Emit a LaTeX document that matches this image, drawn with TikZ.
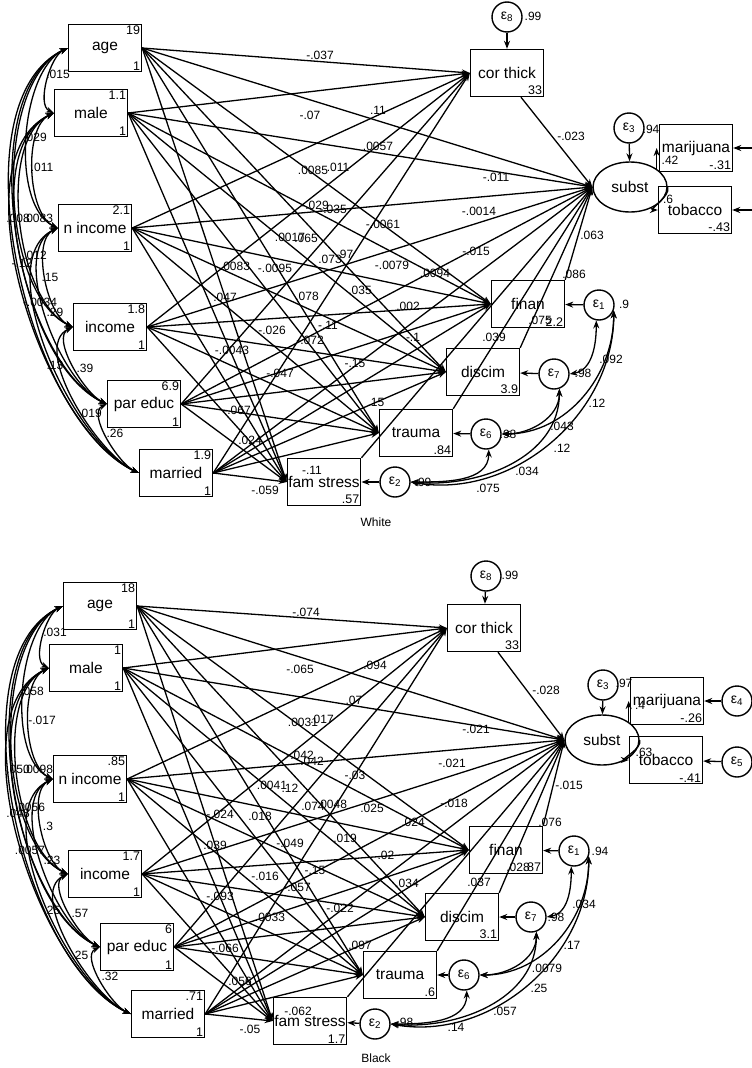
\documentclass[tikz,border=0pt]{standalone}
\usepackage{fontspec}
\setmainfont{Liberation Sans}
\usetikzlibrary{arrows.meta,shapes.geometric,positioning}
\tikzset{
  box/.style={draw, line width=1.4pt, minimum width=73pt, minimum height=47pt, inner sep=1pt, font=\fontsize{15.5}{15.5}\selectfont},
  err/.style={draw, circle, line width=1.4pt, minimum size=30pt, inner sep=0pt, font=\fontsize{14}{14}\selectfont},
  lat/.style={draw, ellipse, line width=1.4pt, minimum width=74pt, minimum height=50pt, font=\fontsize{15.5}{15.5}\selectfont},
  num/.style={font=\fontsize{12.5}{12.5}\selectfont, inner sep=2pt},
  lbl/.style={font=\fontsize{12}{12}\selectfont, inner sep=0pt},
  path/.style={line width=1.3pt, -{Stealth[length=8pt,width=6pt]}},
  cov/.style={line width=1.3pt, {Stealth[length=8pt,width=6pt]}-{Stealth[length=8pt,width=6pt]}},
  topnum/.style={label={[num,anchor=north east]north east:#1}},
  botnum/.style={label={[num,anchor=south east]south east:#1}},
}
\begin{document}
\begin{tikzpicture}[x=1pt,y=1pt]
  \useasboundingbox (0,0) rectangle (752,-1068);

  % ---------- White ----------
  \node [box, topnum=19, botnum=1] (agew) at (105,-48) {age};
  \node [box, topnum=1.1, botnum=1] (malew) at (91,-113) {male};
  \node [box, topnum=2.1, botnum=1] (nincw) at (95,-228) {n income};
  \node [box, topnum=1.8, botnum=1] (incw) at (110,-327) {income};
  \node [box, topnum=6.9, botnum=1] (paredw) at (144,-404) {par educ};
  \node [box, topnum=1.9, botnum=1] (marw) at (176,-473) {married};
  \node [box, botnum=33] (corw) at (507,-73) {cor thick};
  \node [box, botnum=2.2] (finw) at (528,-304) {finan};
  \node [box, botnum=3.9] (disw) at (483,-372) {discim};
  \node [box, botnum=.84] (trw) at (416,-433) {trauma};
  \node [box, botnum=.57] (famw) at (324,-482) {fam stress};
  \node [lat] (substw) at (630,-187) {subst};
  \node [box, botnum=-.31] (mariw) at (696,-148) {marijuana};
  \node [box, botnum=-.43] (tobw) at (695,-210) {tobacco};
  \node [err] (e8w) at (507,-17) {ε\textsubscript{8}};
  \node [err] (e3w) at (629,-128) {ε\textsubscript{3}};
  \node [err] (e1w) at (599,-305) {ε\textsubscript{1}};
  \node [err] (e7w) at (554,-374) {ε\textsubscript{7}};
  \node [err] (e6w) at (486,-434) {ε\textsubscript{6}};
  \node [err] (e2w) at (395,-482) {ε\textsubscript{2}};
  \coordinate (e4w) at (752,-148);
  \coordinate (e5w) at (752,-210);
  \node [lbl] (titlew) at (376,-522) {White};

  \foreach \s in {agew,malew,nincw,incw,paredw,marw}{
    \foreach \t in {corw,finw,disw,trw,famw,substw}
      \draw [path] (\s.east) -- (\t.west);
  }
  \foreach \m in {corw.-60,finw.north east,disw.north east,trw.north east,famw.north east}
    \draw [path] (\m) -- (substw.west);
  \draw [path] (e8w) -- (corw);
  \draw [path] (e3w) -- (substw);
  \draw [path] (e1w) -- (finw);
  \draw [path] (e7w) -- (disw);
  \draw [path] (e6w) -- (trw);
  \draw [path] (e2w) -- (famw);
  \draw [path] (e4w) -- (mariw);
  \draw [path] (e5w) -- (tobw);
  \draw [path] (substw.north east) -- (substw.north east |- mariw.west);
  \draw [path] (substw.east) to [out=-70,in=180] (tobw.west);
  \foreach \a/\b in {agew/malew,agew/nincw,agew/incw,agew/paredw,agew/marw,
                     malew/nincw,malew/incw,malew/paredw,malew/marw,
                     nincw/incw,nincw/paredw,nincw/marw,
                     incw/paredw,incw/marw,paredw/marw}
    \draw [cov] (\a.west) to [out=205,in=155,looseness=0.75] (\b.west);
  \draw [cov] (e1w.-100) to [out=-90,in=10] (e7w.east);
  \draw [cov] (e1w.-20) to [out=-90,in=0] (e6w.east);
  \draw [cov] (e1w.-20) to [out=-90,in=-10] (e2w.east);
  \draw [cov] (e7w.-70) to [out=-90,in=0] (e6w.east);
  \draw [cov] (e7w.-70) to [out=-90,in=-5] (e2w.east);
  \draw [cov] (e6w.-80) to [out=-90,in=0] (e2w.east);

  \foreach \x/\y/\t [count=\i] in {
    320/55/-.037, 310/115/-.07, 378/110/.11, 378/146/.0057, 313/170/.0085, 338/167/.011,
    496/177/-.011, 315/205/-.029, 333/209/-.035, 383/224/-.0061, 479/211/-.0014,
    290/237/.0017, 306/238/.065, 571/136/-.023, 592/235/.063, 476/251/-.015,
    235/266/.0083, 275/268/-.0095, 330/259/.073, 345/254/.97, 225/297/.047,
    307/296/.078, 360/290/.035, 328/325/-.11, 272/330/-.026, 310/340/-.072,
    232/350/-.0043, 355/363/-.15, 280/373/-.047, 237/410/-.067, 250/440/.024,
    265/490/-.059, 376/402/.15, 312/470/-.11, 392/265/-.0079, 435/273/.0094,
    408/306/.002, 413/337/-.1, 574/274/.086, 540/320/.075, 494/337/.039,
    611/359/.092, 597/403/.12, 562/426/.043, 562/448/.12, 527/471/.034,
    488/488/.075, 624/304/.9, 583/373/.98, 508/434/.98, 423/482/.99, 533/16/.99,
    651/129/.94, 670/160/.42, 668/199/.6,
    58/74/.015, 35/137/.029, 42/167/.011, 18/218/.008, 38/218/.0083, 35/255/.012,
    22/263/-.12, 50/277/.15, 40/302/-.0034, 55/312/.29, 55/365/.13, 85/368/.39,
    90/413/.019, 115/433/.26}
    \node [lbl] (lw\i) at (\x,-\y) {\t};

  % ---------- Black ----------
  \node [box, topnum=18, botnum=1] (ageb) at (100,-606) {age};
  \node [box, topnum=1, botnum=1] (maleb) at (86,-668) {male};
  \node [box, topnum=.85, botnum=1] (nincb) at (90,-779) {n income};
  \node [box, topnum=1.7, botnum=1] (incb) at (105,-874) {income};
  \node [box, topnum=6, botnum=1] (paredb) at (137,-947) {par educ};
  \node [box, topnum=.71, botnum=1] (marb) at (168,-1014) {married};
  \node [box, botnum=33] (corb) at (484,-628) {cor thick};
  \node [box, botnum=.87] (finb) at (506,-850) {finan};
  \node [box, botnum=3.1] (disb) at (462,-917) {discim};
  \node [box, botnum=.6] (trb) at (400,-975) {trauma};
  \node [box, botnum=1.7] (famb) at (310,-1021) {fam stress};
  \node [lat] (substb) at (602,-740) {subst};
  \node [box, botnum=-.26] (marib) at (667,-701) {marijuana};
  \node [box, botnum=-.41] (tobb) at (666,-760) {tobacco};
  \node [err] (e8b) at (486,-576) {ε\textsubscript{8}};
  \node [err] (e3b) at (603,-685) {ε\textsubscript{3}};
  \node [err] (e4b) at (737,-701) {ε\textsubscript{4}};
  \node [err] (e5b) at (737,-762) {ε\textsubscript{5}};
  \node [err] (e1b) at (574,-851) {ε\textsubscript{1}};
  \node [err] (e7b) at (531,-917) {ε\textsubscript{7}};
  \node [err] (e6b) at (464,-975) {ε\textsubscript{6}};
  \node [err] (e2b) at (375,-1024) {ε\textsubscript{2}};
  \node [lbl] (titleb) at (376,-1058) {Black};

  \foreach \s in {ageb,maleb,nincb,incb,paredb,marb}{
    \foreach \t in {corb,finb,disb,trb,famb,substb}
      \draw [path] (\s.east) -- (\t.west);
  }
  \foreach \m in {corb.-60,finb.north east,disb.north east,trb.north east,famb.north east}
    \draw [path] (\m) -- (substb.west);
  \draw [path] (e8b) -- (corb);
  \draw [path] (e3b) -- (substb);
  \draw [path] (e1b) -- (finb);
  \draw [path] (e7b) -- (disb);
  \draw [path] (e6b) -- (trb);
  \draw [path] (e2b) -- (famb);
  \draw [path] (e4b) -- (marib);
  \draw [path] (e5b) -- (tobb);
  \draw [path] (substb.north east) -- (substb.north east |- marib.west);
  \draw [path] (substb.east) to [out=-70,in=180] (tobb.west);
  \foreach \a/\b in {ageb/maleb,ageb/nincb,ageb/incb,ageb/paredb,ageb/marb,
                     maleb/nincb,maleb/incb,maleb/paredb,maleb/marb,
                     nincb/incb,nincb/paredb,nincb/marb,
                     incb/paredb,incb/marb,paredb/marb}
    \draw [cov] (\a.west) to [out=205,in=155,looseness=0.75] (\b.west);
  \draw [cov] (e1b.-100) to [out=-90,in=10] (e7b.east);
  \draw [cov] (e1b.-20) to [out=-90,in=0] (e6b.east);
  \draw [cov] (e1b.-20) to [out=-90,in=-10] (e2b.east);
  \draw [cov] (e7b.-70) to [out=-90,in=0] (e6b.east);
  \draw [cov] (e7b.-70) to [out=-90,in=-5] (e2b.east);
  \draw [cov] (e6b.-80) to [out=-90,in=0] (e2b.east);

  \foreach \x/\y/\t [count=\i] in {
    306/612/-.074, 300/669/-.065, 375/665/.094, 354/700/.07, 303/722/.0031, 322/719/.017,
    300/755/-.042, 312/761/.042, 355/775/-.03, 272/785/.0041, 290/788/.12, 313/806/.074,
    332/804/.0048, 372/808/.025, 220/814/-.024, 260/816/.018, 215/845/.039, 290/843/-.049,
    345/838/.019, 315/870/-.15, 265/876/-.016, 297/887/-.057, 220/896/-.093, 340/908/-.022,
    270/917/.0033, 360/945/.097, 225/948/-.066, 240/981/.056, 250/1029/-.05, 298/1011/-.062,
    546/690/-.028, 476/729/-.021, 452/763/-.021, 569/785/-.015, 454/803/-.018, 413/822/.024,
    386/855/.02, 407/883/.034, 550/822/.076, 518/867/.028, 479/882/.037, 584/904/.034,
    572/945/.17, 547/968/.0079, 539/988/.25, 505/1011/.057, 456/1027/.14, 600/851/.94,
    556/917/.98, 405/1022/.98, 510/575/.99, 624/683/.97, 640/705/.4, 644/752/.63,
    55/632/.031, 32/691/.058, 42/720/-.017, 18/769/.050, 38/769/.0098, 30/807/.0056,
    18/813/.048, 48/826/.3, 30/850/.0057, 52/860/.23, 52/910/.25, 80/913/.57,
    80/955/.25, 110/976/.32}
    \node [lbl] (lb\i) at (\x,-\y) {\t};
\end{tikzpicture}
\end{document}
